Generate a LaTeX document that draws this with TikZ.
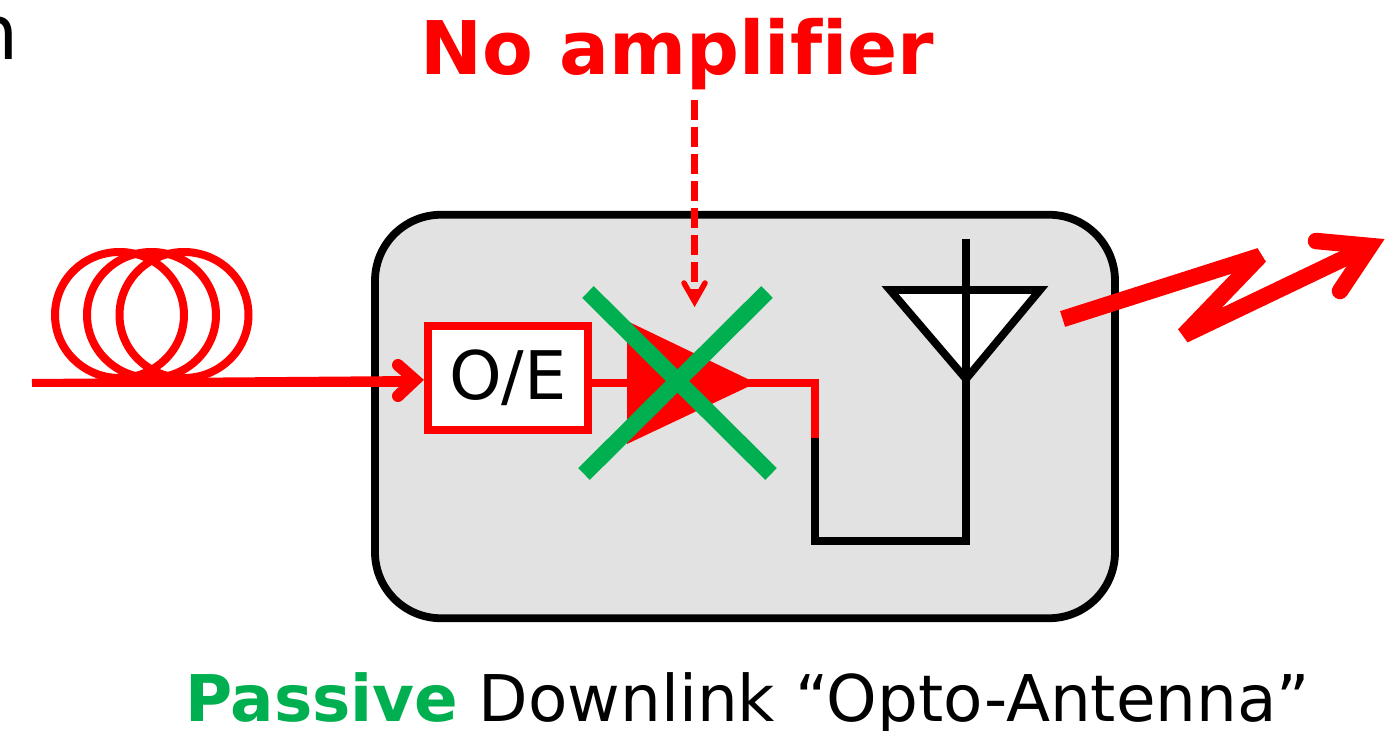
\documentclass[tikz,border=0pt]{standalone}
\usepackage{fontspec}
\setmainfont[Ligatures=NoCommon]{DejaVu Sans}
\definecolor{pgreen}{HTML}{00B050}
\definecolor{boxgray}{HTML}{E2E2E2}
\tikzset{
  x=0.5pt,y=-0.5pt,
  redline/.style={draw=red,line width=4pt,line join=miter},
  blackline/.style={draw=black,line width=3.9pt,line join=miter},
  crossline/.style={draw=pgreen,line width=8.25pt},
  barb/.style={draw=red,line cap=round,line join=miter,miter limit=20},
  txt/.style={inner sep=0pt,outer sep=0pt,text=black},
}
\begin{document}
\begin{tikzpicture}
\useasboundingbox (0,0) rectangle (1397,731);
% clipped word at the upper left
\node[txt,anchor=base east,font=\fontsize{38}{44}\selectfont] (frag) at (19,60) {n};
% enclosure
\node[draw=black,fill=boxgray,line width=3.9pt,rounded corners=33pt,minimum width=370pt,minimum height=201.75pt,inner sep=0pt,outer sep=0pt] (box) at (745,416.5) {};
% fibre coil
\draw[redline] (119.5,315) ellipse [x radius=64.5,y radius=63];
\draw[redline] (151.5,315) ellipse [x radius=64.5,y radius=63];
\draw[redline] (184,315) ellipse [x radius=64.5,y radius=63];
% O/E
\node[draw=red,fill=white,line width=4pt,minimum width=80pt,minimum height=52pt,inner sep=0pt,outer sep=0pt,font=\fontsize{33.5}{38}\selectfont] (oe) at (508,378) {\raisebox{-1.75pt}{O/E}};
% input fibre
\coordinate (fstart) at (32,383);
\coordinate (fa) at (415,380);
\coordinate (ba) at (398,365);
\coordinate (bb) at (398,396);
\draw[redline] (fstart) -- (fa |- fstart);
\draw[redline] (fstart) -- (fa);
\draw[barb,line width=6pt] (ba) -- (fa) -- (bb);
% amplifier
\coordinate (tl) at (627,321);
\coordinate (bl) at (627,444);
\coordinate (tip) at (756,383);
\coordinate (tipin) at (735,383);
\coordinate (ampin) at (627,383);
\coordinate (w1) at (815,383);
\coordinate (w2) at (815,438);
\coordinate (w3) at (815,541);
\coordinate (w4) at (966,541);
\coordinate (antb) at (966,379);
\coordinate (antt) at (966,239);
\coordinate (antl) at (890,290);
\coordinate (antr) at (1040,290);
\draw[redline] (oe.east |- ampin) -- (ampin);
\fill[red] (tl) -- (tip) -- (bl) -- cycle;
\draw[redline] (tipin) -- (w1) -- (w2);
% antenna
\draw[blackline,fill=white] (antl) -- (antr) -- (antb) -- cycle;
\draw[blackline] (w2) -- (w3) -- (w4) -- (antt);
% green cross
\coordinate (c1) at (588,292);
\coordinate (c2) at (771,474);
\coordinate (c3) at (767,292);
\coordinate (c4) at (584,474);
\draw[crossline] (c1) -- (c2);
\draw[crossline] (c3) -- (c4);
% No amplifier
\node[txt,text=red,anchor=base,font=\fontsize{37}{44}\selectfont\bfseries] (noamp) at (677.5,75) {No amplifier};
% dashed arrow
\coordinate (da) at (694.6,100);
\coordinate (db) at (694.6,301.5);
\coordinate (dl) at (684,283);
\coordinate (dr) at (705,283);
\draw[draw=red,line width=3.25pt,dash pattern=on 10pt off 3.5pt] (da) -- (db);
\draw[barb,line width=2.75pt] (dl) -- (db) -- (dr);
% radio link
\coordinate (z0) at (1062.6,319);
\coordinate (z1) at (1260,256);
\coordinate (z2) at (1184,335);
\coordinate (z3) at (1370,246);
\coordinate (zb1) at (1316,241);
\coordinate (zb2) at (1340,291);
\draw[draw=red,line width=8.25pt,line join=bevel] (z0) -- (z1) -- (z2) -- (z3);
\draw[barb,line width=8.25pt] (zb1) -- (z3) -- (zb2);
% caption
\node[txt,anchor=base west,font=\fontsize{32.2}{38}\selectfont] (cap) at (185,721) {\textcolor{pgreen}{\bfseries Passive} Downlink “Opto-Antenna”};
\end{tikzpicture}
\end{document}
